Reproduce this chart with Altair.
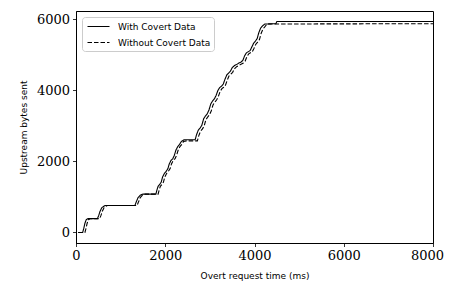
import altair as alt
import pandas as pd

series_names = ["With Covert Data", "Without Covert Data"]

with_t = [50, 150, 175, 200, 230, 270, 480, 510, 540, 580, 650, 1320, 1350, 1390, 1440, 1500,
          1790, 1810, 1840, 1880, 1910, 1940, 1980, 2020, 2060, 2090, 2130, 2170, 2200, 2240,
          2280, 2320, 2360, 2420, 2670, 2700, 2740, 2780, 2820, 2860, 2900, 2940, 2980, 3020,
          3060, 3100, 3140, 3180, 3220, 3260, 3300, 3340, 3380, 3420, 3460, 3500, 3550, 3600,
          3650, 3700, 3740, 3780, 3820, 3860, 3900, 3940, 3980, 4020, 4060, 4100, 4140, 4180,
          4230, 4480, 4500, 8000]
with_b = [0, 0, 120, 260, 360, 390, 390, 480, 600, 700, 760, 760, 860, 980, 1050, 1080,
          1080, 1180, 1300, 1360, 1420, 1560, 1660, 1720, 1800, 1930, 2030, 2080, 2160, 2320,
          2420, 2480, 2560, 2610, 2610, 2750, 2880, 2940, 3020, 3200, 3280, 3340, 3450, 3620,
          3700, 3760, 3860, 4000, 4080, 4120, 4180, 4320, 4440, 4490, 4540, 4640, 4700, 4730,
          4770, 4800, 4850, 4980, 5060, 5090, 5120, 5220, 5330, 5390, 5460, 5640, 5760, 5820,
          5870, 5880, 5940, 5940]

without_t = [50, 200, 225, 250, 280, 320, 530, 560, 590, 630, 700, 1370, 1400, 1440, 1490, 1550,
             1840, 1860, 1890, 1930, 1960, 1990, 2030, 2070, 2110, 2140, 2180, 2220, 2250, 2290,
             2330, 2370, 2410, 2470, 2720, 2750, 2790, 2830, 2870, 2910, 2950, 2990, 3030, 3070,
             3110, 3150, 3190, 3230, 3270, 3310, 3350, 3390, 3430, 3470, 3510, 3550, 3600, 3650,
             3700, 3750, 3790, 3830, 3870, 3910, 3950, 3990, 4030, 4070, 4110, 4150, 4190, 4230,
             4280, 8000]
without_b = [0, 0, 120, 260, 360, 390, 390, 480, 600, 700, 760, 760, 860, 980, 1050, 1080,
             1080, 1180, 1300, 1360, 1420, 1560, 1660, 1720, 1800, 1930, 2030, 2080, 2160, 2320,
             2420, 2480, 2560, 2580, 2580, 2720, 2850, 2910, 2990, 3170, 3250, 3310, 3420, 3590,
             3670, 3730, 3830, 3970, 4050, 4090, 4150, 4290, 4410, 4460, 4510, 4610, 4670, 4700,
             4740, 4770, 4820, 4950, 5030, 5060, 5090, 5190, 5300, 5360, 5430, 5610, 5730, 5790,
             5870, 5880]

x_ticks = [0, 2000, 4000, 6000, 8000]
y_ticks = [0, 2000, 4000, 6000]

rows = []
for i, (t, b) in enumerate(zip(with_t, with_b)):
    rows.append({"series": series_names[0], "t": t, "bytes": b, "order": i})
for i, (t, b) in enumerate(zip(without_t, without_b)):
    rows.append({"series": series_names[1], "t": t, "bytes": b, "order": i})
df = pd.DataFrame(rows)

ymax = max(with_b + without_b)
ydomain = [-0.05 * ymax, 1.05 * ymax]

chart = alt.Chart(df).mark_line(color="black", strokeWidth=1.1, interpolate="linear").encode(
    x=alt.X("t:Q", scale=alt.Scale(domain=[0, 8000], nice=False, zero=False),
            axis=alt.Axis(values=x_ticks, title="Overt request time (ms)", format="d",
                          labelOffset={"condition": {"test": "datum.value == 8000", "value": -6},
                                       "value": 0})),
    y=alt.Y("bytes:Q", scale=alt.Scale(domain=ydomain, nice=False, zero=False),
            axis=alt.Axis(values=y_ticks, title="Upstream bytes sent", format="d")),
    strokeDash=alt.StrokeDash("series:N",
        scale=alt.Scale(domain=series_names, range=[[1, 0], [4.5, 2]]),
        legend=alt.Legend(title=None, orient="none", legendX=6, legendY=6,
                          symbolType="M-2,0H2", symbolSize=121, symbolStrokeWidth=1.1,
                          symbolStrokeColor="black", symbolOffset=7,
                          labelFont="DejaVu Sans",
                          labelFontSize=9, labelColor="black", strokeColor="#cccccc",
                          cornerRadius=3, padding=3, fillColor="white", labelOffset=13,
                          rowPadding=4)),
    order="order:Q",
).properties(
    width=357, height=232,
    autosize=alt.AutoSizeParams(type="none"),
    padding={"left": 68, "top": 3, "right": 11, "bottom": 38},
).configure_view(
    stroke="black", strokeWidth=1
).configure_axis(
    grid=False, domainColor="black", domainWidth=1, tickColor="black", tickSize=3.5,
    tickWidth=0.8, labelFont="DejaVu Serif", labelFontSize=13, labelColor="black",
    labelPadding=3, labelFlush=False, titleFont="DejaVu Sans", titleFontSize=9,
    titleFontWeight="normal", titleColor="black"
).configure_axisY(
    titlePadding=8
).configure_axisX(
    titlePadding=9
)

chart.save("out.html", embed_options={"renderer": "svg", "actions": False})
